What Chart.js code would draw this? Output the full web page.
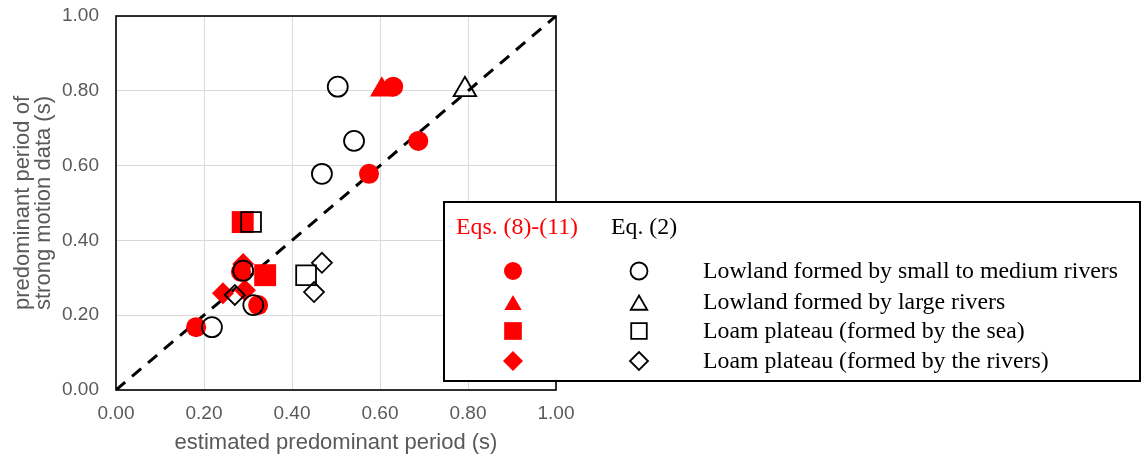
<!DOCTYPE html>
<html>
<head>
<meta charset="utf-8">
<script src="https://cdn.jsdelivr.net/npm/chart.js@4/dist/chart.umd.min.js"></script>
<style>
  html, body { margin: 0; padding: 0; background: #fff; }
  #wrap { position: relative; width: 1142px; height: 459px; }
</style>
</head>
<body>
<div id="wrap"><canvas id="MyChart"></canvas></div>
<script>
// axis ticks (both axes)
const axisTicks = [0, 0.2, 0.4, 0.6, 0.8, 1.0];

const groupNames = [
  'Lowland formed by small to medium rivers',
  'Lowland formed by large rivers',
  'Loam plateau (formed by the sea)',
  'Loam plateau (formed by the rivers)'
];
const methodNames = ['Eqs. (8)-(11)', 'Eq. (2)'];

// Eqs. (8)-(11)  (red, filled)
const smallRiversEqsX = [0.630, 0.687, 0.575, 0.182, 0.323, 0.284];
const smallRiversEqsY = [0.811, 0.666, 0.578, 0.168, 0.227, 0.316];
const largeRiversEqsX = [0.604];
const largeRiversEqsY = [0.803];
const seaPlateauEqsX = [0.288, 0.339];
const seaPlateauEqsY = [0.449, 0.307];
const riverPlateauEqsX = [0.289, 0.243, 0.293];
const riverPlateauEqsY = [0.337, 0.259, 0.267];

// Eq. (2)  (black, hollow)
const smallRiversEq2X = [0.504, 0.541, 0.468, 0.218, 0.312, 0.289];
const smallRiversEq2Y = [0.811, 0.666, 0.578, 0.168, 0.227, 0.319];
const largeRiversEq2X = [0.793];
const largeRiversEq2Y = [0.803];
const seaPlateauEq2X = [0.307, 0.432];
const seaPlateauEq2Y = [0.449, 0.307];
const riverPlateauEq2X = [0.468, 0.450, 0.270];
const riverPlateauEq2Y = [0.340, 0.262, 0.254];

// 1:1 line
const refLineX = [0, 1];
const refLineY = [0, 1];

const RED = '#ff0000';
const AXIS_GREY = '#595959';
const SANS = '"Liberation Sans", Arial, sans-serif';

function pts(xs, ys) {
  return xs.map((x, i) => ({ x: x, y: ys[i] }));
}

function redSet(label, xs, ys, style, r) {
  return {
    type: 'scatter', label: label, data: pts(xs, ys), order: 2,
    pointStyle: style, pointRadius: r, pointHoverRadius: r,
    backgroundColor: RED, borderColor: RED, borderWidth: 0
  };
}

function blackSet(label, xs, ys, style, r) {
  return {
    type: 'scatter', label: label, data: pts(xs, ys), order: 1,
    pointStyle: style, pointRadius: r, pointHoverRadius: r,
    backgroundColor: 'rgba(0,0,0,0)', borderColor: '#000', borderWidth: 1.8
  };
}

const frame = {
  id: 'frame',
  beforeDatasetsDraw(chart) {
    const a = chart.chartArea, ctx = chart.ctx;
    ctx.save();
    ctx.strokeStyle = '#000';
    ctx.lineWidth = 1.6;
    ctx.strokeRect(a.left, a.top, a.right - a.left, a.bottom - a.top);
    ctx.restore();
  }
};

const boxLegend = {
  id: 'boxLegend',
  afterDraw(chart) {
    const ctx = chart.ctx;
    const draw = Chart.helpers.drawPoint;
    ctx.save();
    ctx.fillStyle = '#fff';
    ctx.fillRect(444, 202, 696, 179);
    ctx.strokeStyle = '#000';
    ctx.lineWidth = 2;
    ctx.strokeRect(444, 202, 696, 179);

    ctx.font = '23.8px "Liberation Serif", "Times New Roman", serif';
    ctx.textBaseline = 'middle';
    ctx.textAlign = 'left';
    ctx.fillStyle = RED;
    ctx.fillText(methodNames[0], 456, 228);
    ctx.fillStyle = '#000';
    ctx.fillText(methodNames[1], 611, 228);

    const rows = [271, 302, 331, 361];
    const shapes = [
      { s: 'circle', rr: 9, rb: 8.5, dy: 0 },
      { s: 'triangle', rr: 10, rb: 9.5, dy: 3 },
      { s: 'rect', rr: 12.5, rb: 11, dy: 0 },
      { s: 'rectRot', rr: 10, rb: 9, dy: 0 }
    ];
    shapes.forEach((sh, i) => {
      const y = rows[i] + sh.dy;
      ctx.fillStyle = RED;
      ctx.strokeStyle = RED;
      draw(ctx, { pointStyle: sh.s, radius: sh.rr, borderWidth: 0, rotation: 0 }, 513, y);
      ctx.fillStyle = 'rgba(0,0,0,0)';
      ctx.strokeStyle = '#000';
      ctx.lineWidth = 1.8;
      draw(ctx, { pointStyle: sh.s, radius: sh.rb, borderWidth: 1.8, rotation: 0 }, 639, y);
      ctx.fillStyle = '#000';
      ctx.fillText(groupNames[i], 703, rows[i] + 1);
    });
    ctx.restore();
  }
};

const fmt = v => Number(v).toFixed(2);

new Chart('MyChart', {
  type: 'scatter',
  data: {
    datasets: [
      {
        type: 'line', label: '1:1', data: pts(refLineX, refLineY), order: 3,
        borderColor: '#000', borderWidth: 3, borderDash: [12, 9],
        pointRadius: 0, fill: false, tension: 0
      },
      redSet(groupNames[0], smallRiversEqsX, smallRiversEqsY, 'circle', 10),
      redSet(groupNames[1], largeRiversEqsX, largeRiversEqsY, 'triangle', 13.5),
      redSet(groupNames[2], seaPlateauEqsX, seaPlateauEqsY, 'rect', 15.5),
      redSet(groupNames[3], riverPlateauEqsX, riverPlateauEqsY, 'rectRot', 11),
      blackSet(groupNames[0], smallRiversEq2X, smallRiversEq2Y, 'circle', 10),
      blackSet(groupNames[1], largeRiversEq2X, largeRiversEq2Y, 'triangle', 13),
      blackSet(groupNames[2], seaPlateauEq2X, seaPlateauEq2Y, 'rect', 14),
      blackSet(groupNames[3], riverPlateauEq2X, riverPlateauEq2Y, 'rectRot', 10)
    ]
  },
  options: {
    responsive: true,
    maintainAspectRatio: false,
    animation: false,
    layout: { padding: { top: 16, right: 586, bottom: 0, left: 0 } },
    plugins: {
      legend: { display: false },
      tooltip: { enabled: false }
    },
    scales: {
      x: {
        type: 'linear', min: axisTicks[0], max: axisTicks[axisTicks.length - 1],
        afterBuildTicks: s => { s.ticks = axisTicks.map(v => ({ value: v })); },
        afterFit: s => { s.height = 69; s.paddingLeft = 0; s.paddingRight = 0; },
        grid: { color: '#d9d9d9', lineWidth: 1, drawTicks: false },
        border: { display: false },
        ticks: {
          padding: 12.6, color: AXIS_GREY, callback: fmt,
          font: { family: SANS, size: 19 }
        },
        title: {
          display: true, text: 'estimated predominant period (s)', color: AXIS_GREY,
          padding: { top: 0, bottom: 2.8 },
          font: { family: SANS, size: 22 }
        }
      },
      y: {
        type: 'linear', min: axisTicks[0], max: axisTicks[axisTicks.length - 1],
        afterBuildTicks: s => { s.ticks = axisTicks.map(v => ({ value: v })); },
        afterFit: s => { s.width = 116; s.paddingTop = 0; s.paddingBottom = 0; },
        grid: { color: '#d9d9d9', lineWidth: 1, drawTicks: false },
        border: { display: false },
        ticks: {
          padding: 17, color: AXIS_GREY, callback: fmt,
          font: { family: SANS, size: 19 }
        },
        title: {
          display: true, text: ['predominant period of', 'strong motion data (s)'], color: AXIS_GREY,
          padding: { top: 12.5, bottom: 0 },
          font: { family: SANS, size: 22, lineHeight: 0.95 }
        }
      }
    }
  },
  plugins: [frame, boxLegend]
});
</script>
</body>
</html>
